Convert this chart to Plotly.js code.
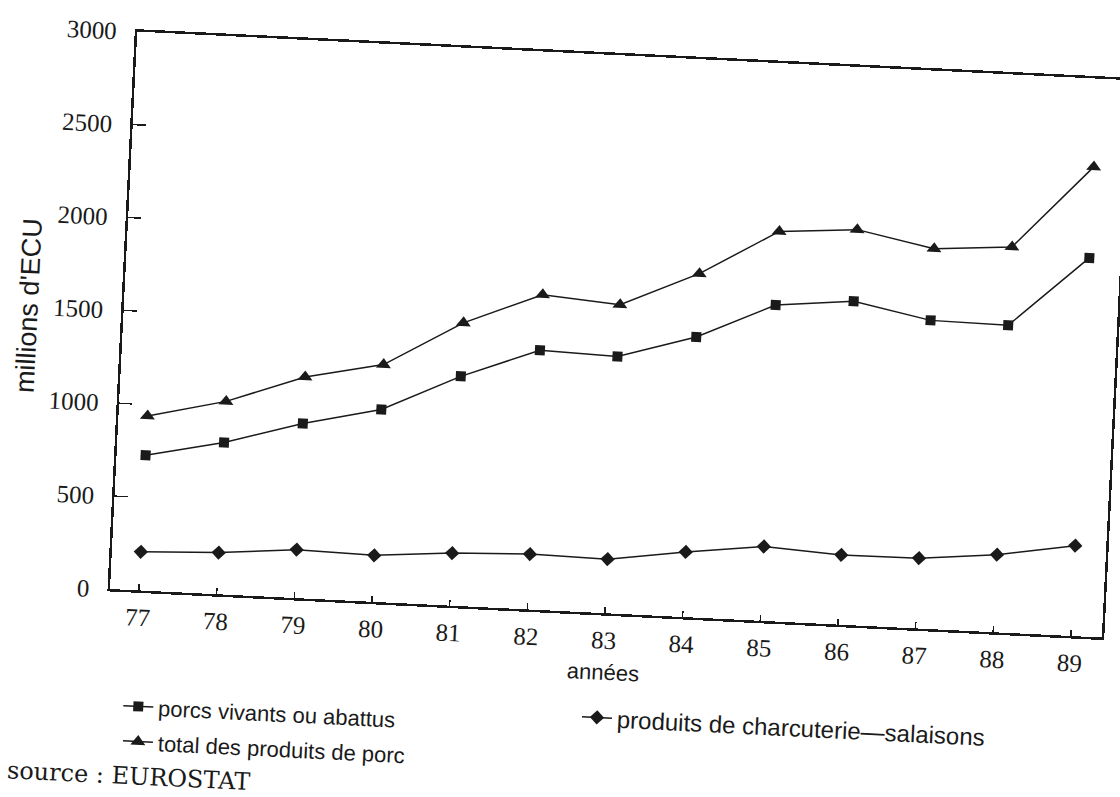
<!DOCTYPE html>
<html>
<head>
<meta charset="utf-8">
<script src="https://cdn.plot.ly/plotly-3.0.1.min.js"></script>
<style>
  html, body { margin: 0; padding: 0; background: #ffffff; overflow: hidden; }
  #chart { width: 1120px; height: 797px; transform-origin: 110px 589px; transform: rotate(2.8deg); }
</style>
</head>
<body>
<div id="chart"></div>
<script>
// Years (x categories) and tick labels
const years = [77, 78, 79, 80, 81, 82, 83, 84, 85, 86, 87, 88, 89];
const yearLabels = ["77", "78", "79", "80", "81", "82", "83", "84", "85", "86", "87", "88", "89"];

// Series values (millions d'ECU)
const porcsVivants = [728, 817, 939, 1035, 1234, 1395, 1382, 1507, 1700, 1740, 1658, 1652, 2035];
const totalPorc = [939, 1038, 1190, 1277, 1522, 1694, 1661, 1848, 2096, 2126, 2044, 2074, 2525];
const charcuterie = [208, 224, 260, 250, 283, 298, 291, 350, 400, 375, 378, 417, 486];

// Text
const seriesNames = ["porcs vivants ou abattus", "total des produits de porc", "produits de charcuterie\u2014salaisons"];
const yTitle = "millions d'ECU";
const xTitle = "années";
const sourceText = "source : EUROSTAT";

const ink = "#1a1a1a";
const sans = "Liberation Sans, Arial, sans-serif";
const serif = "Liberation Serif, Times New Roman, serif";

const traces = [
  {
    x: years, y: porcsVivants, name: seriesNames[0], type: "scatter", mode: "lines+markers",
    line: { color: ink, width: 1.5 },
    marker: { symbol: "square", size: 10, color: ink },
    legend: "legend"
  },
  {
    x: years, y: totalPorc, name: seriesNames[1], type: "scatter", mode: "lines+markers",
    line: { color: ink, width: 1.5 },
    marker: { symbol: "triangle-up", size: 13, color: ink },
    legend: "legend2"
  },
  {
    x: years, y: charcuterie, name: seriesNames[2], type: "scatter", mode: "lines+markers",
    line: { color: ink, width: 1.5 },
    marker: { symbol: "diamond", size: 11, color: ink },
    legend: "legend3"
  }
];

const layout = {
  width: 1120,
  height: 797,
  autosize: false,
  margin: { l: 110, r: 17, t: 31, b: 208, pad: 0 },
  paper_bgcolor: "#ffffff",
  plot_bgcolor: "#ffffff",
  showlegend: true,
  xaxis: {
    range: [76.627, 89.399],
    tickmode: "array",
    tickvals: years,
    ticktext: yearLabels,
    ticks: "inside",
    ticklen: 6,
    tickwidth: 1.5,
    tickcolor: ink,
    ticklabelstandoff: 3,
    tickfont: { family: serif, size: 25, color: ink },
    showline: true,
    linecolor: ink,
    linewidth: 2.5,
    mirror: true,
    showgrid: false,
    zeroline: false,
    automargin: false,
    title: { text: xTitle, font: { family: sans, size: 22, color: ink }, standoff: 12 }
  },
  yaxis: {
    range: [0, 3000],
    tickmode: "linear",
    tick0: 0,
    dtick: 500,
    ticks: "inside",
    ticklen: 13,
    tickwidth: 1.5,
    tickcolor: ink,
    ticklabelstandoff: 13,
    tickfont: { family: serif, size: 25, color: ink },
    showline: true,
    linecolor: ink,
    linewidth: 2.5,
    mirror: true,
    showgrid: false,
    zeroline: false,
    automargin: false,
    title: { text: yTitle, font: { family: sans, size: 27, color: ink }, standoff: 14 }
  },
  legend: {
    x: 0.0141, y: -0.208, xanchor: "left", yanchor: "middle",
    bgcolor: "rgba(0,0,0,0)", borderwidth: 0, font: { family: sans, size: 22, color: ink }
  },
  legend2: {
    x: 0.0155, y: -0.271, xanchor: "left", yanchor: "middle",
    bgcolor: "rgba(0,0,0,0)", borderwidth: 0, font: { family: sans, size: 22, color: ink }
  },
  legend3: {
    x: 0.476, y: -0.188, xanchor: "left", yanchor: "middle",
    bgcolor: "rgba(0,0,0,0)", borderwidth: 0, font: { family: sans, size: 24, color: ink }
  },
  annotations: [
    {
      text: sourceText, xref: "paper", yref: "paper", x: -0.0967, y: -0.334,
      xanchor: "left", yanchor: "middle", showarrow: false,
      font: { family: "DejaVu Serif, Liberation Serif, serif", size: 24, color: ink }
    }
  ]
};

Plotly.newPlot("chart", traces, layout, { displayModeBar: false, staticPlot: true });
</script>
</body>
</html>
